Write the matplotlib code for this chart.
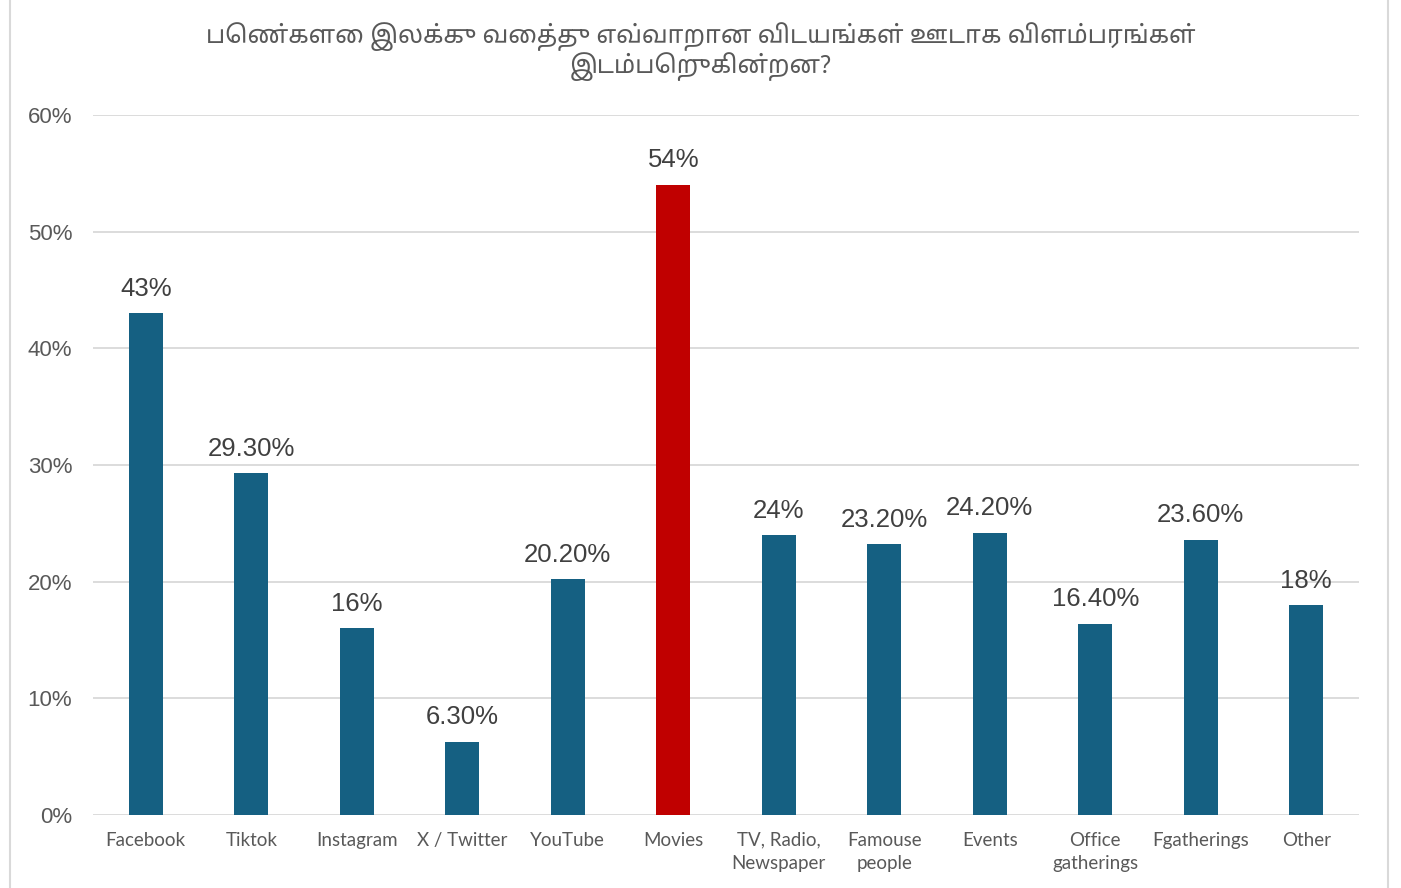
import matplotlib
matplotlib.use('Agg')
import matplotlib.pyplot as plt
from matplotlib.lines import Line2D
from matplotlib.ticker import PercentFormatter

categories = ['Facebook', 'Tiktok', 'Instagram', 'X / Twitter', 'YouTube', 'Movies',
              'TV, Radio,\nNewspaper', 'Famouse\npeople', 'Events', 'Office\ngatherings',
              'Fgatherings', 'Other']
values = [43, 29.3, 16, 6.3, 20.2, 54, 24, 23.2, 24.2, 16.4, 23.6, 18]
labels = ['43%', '29.30%', '16%', '6.30%', '20.20%', '54%', '24%', '23.20%',
          '24.20%', '16.40%', '23.60%', '18%']
highlight = 'Movies'
title = 'பெண்களை இலக்கு வைத்து எவ்வாறான விடயங்கள் ஊடாக விளம்பரங்கள்\nஇடம்பெறுகின்றன?'

blue = '#156082'
red = '#C00000'
grid_c = '#D9D9D9'
text_c = '#595959'

fig = plt.figure(figsize=(14.01, 8.88), dpi=100)
ax = fig.add_axes([0.0664, 0.0822, 0.9036, 0.7883])

colors = [red if c == highlight else blue for c in categories]
x = range(len(categories))
bars = ax.bar(x, values, width=0.32, color=colors, zorder=3)

for b, lab in zip(bars, labels):
    ax.annotate(lab, (b.get_x() + b.get_width() / 2, b.get_height()),
                xytext=(0, 9), textcoords='offset points', ha='center', va='bottom',
                fontsize=18.5, color='#404040', family=['Liberation Sans', 'DejaVu Sans'])

ax.set_xlim(-0.5, len(categories) - 0.5)
ax.set_ylim(0, 60)
ax.set_yticks(range(0, 61, 10))
ax.yaxis.set_major_formatter(PercentFormatter(decimals=0))
ax.grid(axis='y', color=grid_c, linewidth=1.3, zorder=0)
for s in ax.spines.values():
    s.set_visible(False)
ax.tick_params(axis='both', length=0)
ax.tick_params(axis='y', pad=15, labelsize=16, labelcolor=text_c)
ax.tick_params(axis='x', pad=12, labelsize=13.5, labelcolor=text_c)
for t in ax.get_yticklabels():
    t.set_family(['Liberation Sans', 'DejaVu Sans'])
ax.set_xticks(list(x))
ax.set_xticklabels(categories, family=['Lato', 'DejaVu Sans'], linespacing=1.45)

fig.text(0.5, 0.942, title, ha='center', va='center', fontsize=17.8, color=text_c,
         family=['Noto Sans Tamil', 'DejaVu Sans'], linespacing=1.05)

# chart-area border
fig.add_artist(Line2D([10 / 1401, 10 / 1401], [0, 1], color=grid_c, linewidth=1.5))
fig.add_artist(Line2D([1388 / 1401, 1388 / 1401], [0, 1], color=grid_c, linewidth=1.5))

fig.savefig('out.png', dpi=100)
